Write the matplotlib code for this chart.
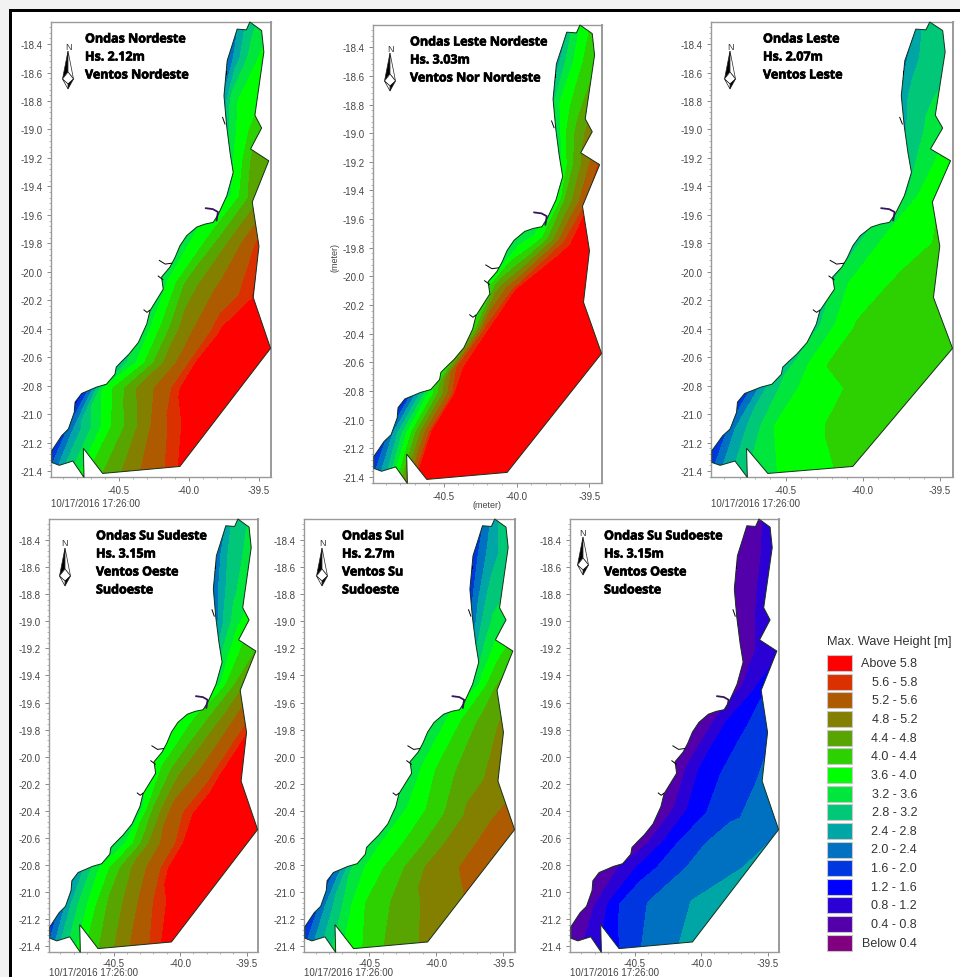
import matplotlib
matplotlib.use("Agg")
import matplotlib.pyplot as plt
import matplotlib.patheffects as pe
from matplotlib.patches import Polygon, Rectangle
from matplotlib.ticker import MultipleLocator, FixedLocator, FuncFormatter
import numpy as np

plt.rcParams['font.family'] = ['Liberation Sans', 'DejaVu Sans']

W, H = 960, 978

#================== model domain outline ========================
domain_lon = [-39.565, -39.481, -39.465, -39.529, -39.481, -39.56, -39.43, -39.548, -39.50, -39.541, -39.417,
              -40.065, -40.617, -40.755, -40.75, -40.83, -40.927, -40.98, -40.98, -40.91, -40.862, -40.82,
              -40.814, -40.767, -40.707, -40.66, -40.59, -40.529, -40.52, -40.477, -40.43, -40.362,
              -40.302, -40.279, -40.184, -40.196, -40.136, -40.10, -40.065, -40.017, -39.945, -39.886, -39.827,
              -39.79, -39.73, -39.684, -39.707, -39.731, -39.75, -39.727, -39.686, -39.656, -39.59]
domain_lat = [-18.245, -18.305, -18.456, -18.90, -18.99, -19.137, -19.22, -19.51, -19.82, -20.18, -20.538,
              -21.368, -21.417, -21.24, -21.445, -21.33, -21.36, -21.34, -21.257, -21.152, -21.105, -20.988,
              -20.916, -20.855, -20.83, -20.81, -20.79, -20.72, -20.67, -20.626, -20.58, -20.497,
              -20.368, -20.274, -20.122, -20.037, -19.967, -19.90, -19.818, -19.747, -19.686, -19.665, -19.653,
              -19.595, -19.466, -19.302, -19.161, -18.974, -18.763, -18.517, -18.39, -18.295, -18.30]
river_lon = [-39.881, -39.829, -39.793, -39.803]
river_lat = [-19.553, -19.56, -19.58, -19.64]
inlets = [([-40.322, -40.30, -40.28], [-20.268, -20.285, -20.27]),
          ([-40.212, -40.17, -40.124], [-19.92, -19.946, -19.94]),
          ([-40.22, -40.186], [-20.03, -20.056]),
          ([-39.76, -39.743], [-18.915, -18.962]),
          ([-39.736, -39.736], [-18.59, -18.61])]

#================== transects used for the wave field ===========
coast_lon = [-39.68, -39.76, -39.78, -39.75, -39.72, -39.74, -40.00, -40.22, -40.33, -40.55, -40.75, -40.95, -41.05]
coast_lat = [-18.22, -18.50, -18.80, -19.00, -19.22, -19.45, -19.68, -20.05, -20.36, -20.64, -20.82, -21.10, -21.46]
off_lon = [-39.44, -39.44, -39.49, -39.45, -39.40, -39.50, -39.46, -39.50, -39.38, -39.40, -39.55, -39.70, -39.90]
off_lat = [-18.22, -18.50, -18.80, -19.00, -19.22, -19.50, -19.82, -20.20, -20.50, -20.64, -20.82, -21.05, -21.46]
frac = [0, .12, .3, .6, 1]

hs_ne = [[2.0, 2.3, 2.7, 3.1, 3.4], [1.8, 2.0, 2.6, 3.3, 3.9], [2.2, 2.6, 3.4, 3.8, 3.95], [2.8, 3.2, 3.6, 4.0, 4.5],
         [3.2, 3.6, 3.95, 4.6, 4.8], [3.2, 3.5, 3.8, 4.3, 4.8], [3.2, 3.6, 4.0, 4.9, 5.9], [3.2, 3.7, 4.6, 5.3, 5.9],
         [3.2, 3.9, 4.95, 5.9, 6.5], [2.6, 3.4, 4.7, 6.2, 7.0], [1.4, 3.7, 4.75, 5.9, 6.5], [1.2, 2.6, 3.9, 5.5, 6.5],
         [1.8, 2.9, 4.2, 5.2, 6.2]]
hs_ene = [[2.2, 2.6, 3.2, 3.8, 4.2], [2.4, 2.6, 3.2, 3.9, 4.4], [2.8, 3.2, 3.7, 4.1, 4.7], [3.0, 3.4, 4.0, 4.6, 5.2],
          [3.4, 3.7, 4.3, 5.0, 5.9], [3.4, 3.7, 4.4, 5.0, 5.8], [3.0, 3.3, 3.8, 5.6, 6.5], [3.4, 4.6, 5.8, 6.5, 7.0],
          [3.4, 5.7, 6.5, 6.8, 7.0], [2.4, 5.6, 6.5, 6.8, 7.0], [1.6, 3.6, 6.2, 6.8, 7.0], [1.2, 3.0, 5.9, 6.6, 7.0],
          [1.6, 2.8, 5.8, 6.5, 7.0]]
hs_e = [[2.1, 2.4, 2.8, 3.0, 3.1], [1.9, 2.3, 2.7, 3.0, 3.1], [2.3, 2.6, 2.9, 3.1, 3.3], [2.5, 2.8, 3.0, 3.3, 3.6],
        [2.9, 3.1, 3.3, 3.6, 3.95], [2.9, 3.2, 3.5, 3.8, 4.0], [2.9, 3.3, 3.6, 3.85, 4.1], [3.0, 3.5, 3.8, 4.1, 4.3],
        [2.9, 3.5, 4.05, 4.25, 4.35], [2.6, 3.4, 4.05, 4.2, 4.3], [1.8, 3.0, 3.7, 4.1, 4.3], [1.4, 2.6, 3.6, 4.05, 4.3],
        [1.6, 2.6, 3.4, 3.85, 4.2]]
hs_sse = [[2.0, 2.3, 2.8, 3.1, 3.3], [1.8, 2.1, 2.7, 3.1, 3.4], [1.8, 2.1, 2.6, 3.1, 3.5], [2.0, 2.4, 2.9, 3.5, 3.9],
          [2.9, 3.2, 3.6, 4.1, 4.5], [3.0, 3.4, 3.9, 4.4, 5.0], [3.5, 3.8, 4.2, 5.0, 5.9], [3.8, 4.0, 4.7, 5.5, 6.6],
          [3.0, 4.3, 5.4, 6.2, 6.8], [2.8, 3.6, 5.0, 6.2, 6.8], [2.6, 3.6, 4.7, 6.0, 6.8], [1.6, 3.0, 4.3, 5.6, 6.6],
          [1.6, 2.9, 4.1, 5.3, 6.4]]
hs_s = [[1.6, 1.9, 2.3, 2.8, 3.1], [1.4, 1.7, 2.2, 2.7, 3.1], [1.4, 1.8, 2.3, 2.9, 3.2], [1.9, 2.3, 2.8, 3.3, 3.6],
        [2.8, 3.0, 3.4, 3.9, 4.3], [3.0, 3.3, 3.7, 4.2, 4.7], [3.2, 3.5, 3.9, 4.5, 5.0], [3.2, 3.5, 4.0, 4.6, 5.0],
        [3.0, 3.6, 4.1, 4.9, 5.55], [2.8, 3.6, 4.1, 5.0, 5.58], [2.0, 3.4, 4.0, 4.95, 5.55], [1.4, 2.6, 3.9, 4.7, 5.3],
        [1.6, 2.6, 3.6, 4.5, 5.1]]
hs_ssw = [[.5, .6, .7, .8, 1.0], [.3, .45, .6, .75, 1.05], [.3, .45, .65, .75, 1.0], [.3, .45, .65, .85, 1.1],
          [.4, .5, .7, 1.0, 1.15], [.5, .6, .9, 1.15, 1.65], [.4, .5, 1.1, 1.55, 2.0], [.5, .7, 1.25, 1.75, 2.1],
          [.5, .75, 1.45, 1.95, 2.3], [.5, .75, 1.55, 2.2, 2.45], [.4, .85, 1.5, 2.15, 2.5], [.5, .8, 1.75, 2.3, 2.7],
          [.5, .8, 1.35, 2.25, 2.65]]

levels = [-1, .4, .8, 1.2, 1.6, 2.0, 2.4, 2.8, 3.2, 3.6, 4.0, 4.4, 4.8, 5.2, 5.6, 5.8, 9]
band_colors = ['#800080', '#5400aa', '#2a00d5', '#0000ff', '#0036e0', '#0070c0', '#00a5a5', '#00c878', '#00e63c',
               '#00ff00', '#2dd000', '#58a400', '#838000', '#ae5a00', '#db3000', '#ff0000']
band_labels = ['Below 0.4', '0.4 - 0.8', '0.8 - 1.2', '1.2 - 1.6', '1.6 - 2.0', '2.0 - 2.4', '2.4 - 2.8', '2.8 - 3.2',
               '3.2 - 3.6', '3.6 - 4.0', '4.0 - 4.4', '4.4 - 4.8', '4.8 - 5.2', '5.2 - 5.6', '5.6 - 5.8', 'Above 5.8']

# field, box in pixels (left, right, top, bottom), title, title x, title y, north arrow x, north arrow y, date y
panels = [
    (hs_ne, (51, 271, 23, 478), ['Ondas Nordeste', 'Hs. 2.12m', 'Ventos Nordeste'], 85, 40, 68, 47, 504),
    (hs_ene, (373, 602, 26, 484), ['Ondas Leste Nordeste', 'Hs. 3.03m', 'Ventos Nor Nordeste'], 410, 43, 390, 49, None),
    (hs_e, (711, 953, 23, 478), ['Ondas Leste', 'Hs. 2.07m', 'Ventos Leste'], 763, 40, 730, 47, 504),
    (hs_sse, (49, 258, 520, 953), ['Ondas Su Sudeste', 'Hs. 3.15m', 'Ventos Oeste', 'Sudoeste'], 96, 537, 65, 544, 973.5),
    (hs_s, (304, 515, 520, 953), ['Ondas Sul', 'Hs. 2.7m', 'Ventos Su', 'Sudoeste'], 342, 537, 322, 544, 973.5),
    (hs_ssw, (570, 779, 520, 953), ['Ondas Su Sudoeste', 'Hs. 3.15m', 'Ventos Oeste', 'Sudoeste'], 604, 537, 583, 533, 973.5),
]


def fx(x):
    return x / W


def fy(y):
    return 1 - y / H


fig = plt.figure(figsize=(9.6, 9.78), dpi=100, facecolor='white')

# screenshot frame
fig.add_artist(Rectangle((0, fy(978)), fx(9), 1, transform=fig.transFigure, color='#f2f2f2', lw=0))
fig.add_artist(Rectangle((0, fy(10)), 1, fy(0) - fy(10), transform=fig.transFigure, color='#f2f2f2', lw=0))
fig.add_artist(Rectangle((fx(9), fy(13)), 1, fy(10) - fy(13), transform=fig.transFigure, color='black', lw=0))
fig.add_artist(Rectangle((fx(9), 0), fx(3), fy(10), transform=fig.transFigure, color='black', lw=0))

coast = np.column_stack((coast_lon, coast_lat))
off = np.column_stack((off_lon, off_lat))

for hs, box, title, tx, ty, nx, ny, dy in panels:
    l, r, t, b = box
    ax = fig.add_axes([fx(l), fy(b), fx(r - l), fy(t) - fy(b)])
    ax.set_xlim(-40.986, -39.414)
    ax.set_ylim(-21.442, -18.245)

    # mesh between coast and offshore points
    X = np.array([[c[0] + f * (o[0] - c[0]) for f in frac] for c, o in zip(coast, off)])
    Y = np.array([[c[1] + f * (o[1] - c[1]) for f in frac] for c, o in zip(coast, off)])
    cs = ax.contourf(X, Y, np.array(hs), levels=levels, colors=band_colors)
    outline = Polygon(np.column_stack((domain_lon, domain_lat)), closed=True, transform=ax.transData,
                      fill=False, edgecolor='#12301a', lw=0.7, zorder=3, clip_on=False)
    ax.add_patch(outline)
    cs.set_clip_path(outline)

    ax.plot(river_lon, river_lat, color='#35155f', lw=1.3, zorder=4, solid_capstyle='round')
    for ix, iy in inlets:
        ax.plot(ix, iy, color='black', lw=0.7, zorder=4, clip_on=False)

    for s in ax.spines.values():
        s.set_color('#9a9a9a')
        s.set_linewidth(1.0)
    ax.spines['right'].set_linewidth(1.4)
    ax.yaxis.set_major_locator(FixedLocator(np.arange(-21.4, -18.3, 0.2)))
    ax.yaxis.set_minor_locator(MultipleLocator(0.04))
    ax.xaxis.set_major_locator(FixedLocator([-40.5, -40.0, -39.5]))
    ax.xaxis.set_minor_locator(MultipleLocator(0.1))
    ax.xaxis.set_major_formatter(FuncFormatter(lambda v, p: '%.1f' % v))
    ax.yaxis.set_major_formatter(FuncFormatter(lambda v, p: '%.1f' % v))
    ax.tick_params(which='major', length=3, width=0.6, color='#777777', labelcolor='#444444', labelsize=7, pad=3)
    ax.tick_params(which='minor', length=1.5, width=0.5, color='#999999')
    if b > 900:
        ax.tick_params(axis='x', which='major', pad=1)

    for i, line in enumerate(title):
        fig.text(fx(tx), fy(ty + i * 18), line, fontsize=9, fontweight='bold', family='Open Sans',
                 color='black', va='center', ha='left',
                 path_effects=[pe.withStroke(linewidth=0.5, foreground='black')])

    # north arrow
    fig.text(fx(nx), fy(ny), 'N', fontsize=6.5, color='#333333', ha='center', va='center')
    parts = [([(0, 5), (-5.5, 33), (0, 26)], 'black'),
             ([(0, 5), (5.5, 33), (0, 26)], 'white'),
             ([(-5.5, 33), (0, 26), (5.5, 33), (0, 38)], 'white'),
             ([(0, 38), (5.5, 33), (0, 43)], 'black'),
             ([(-5.5, 33), (0, 38), (0, 43)], 'white')]
    for pts, col in parts:
        xy = [(fx(nx + p[0]), fy(ny + p[1])) for p in pts]
        fig.add_artist(Polygon(xy, closed=True, transform=fig.transFigure, facecolor=col, edgecolor='#222222', lw=0.5))

    if dy is not None:
        fig.text(fx(l), fy(dy), '10/17/2016 17:26:00', fontsize=7, color='#444444', ha='left', va='center')

fig.text(fx(487), fy(506), '(meter)', fontsize=6.5, color='#444444', ha='center', va='center')
fig.text(fx(335), fy(257), '(meter)', fontsize=6.5, color='#444444', ha='center', va='center', rotation=90)

# legend
fig.text(fx(827), fy(642), 'Max. Wave Height [m]', fontsize=9.2, color='#333333', ha='left', va='center')
for i, (lab, col) in enumerate(zip(band_labels[::-1], band_colors[::-1])):
    yc = 664 + i * 18.65
    fig.add_artist(Rectangle((fx(827), fy(yc + 8)), fx(25), fy(yc - 8) - fy(yc + 8), transform=fig.transFigure,
                             facecolor=col, edgecolor='#c8c8c8', lw=0.8))
    fig.text(fx(917), fy(yc), lab, fontsize=9, color='#333333', ha='right', va='center')

plt.savefig('out.png', dpi=100)
plt.close(fig)
